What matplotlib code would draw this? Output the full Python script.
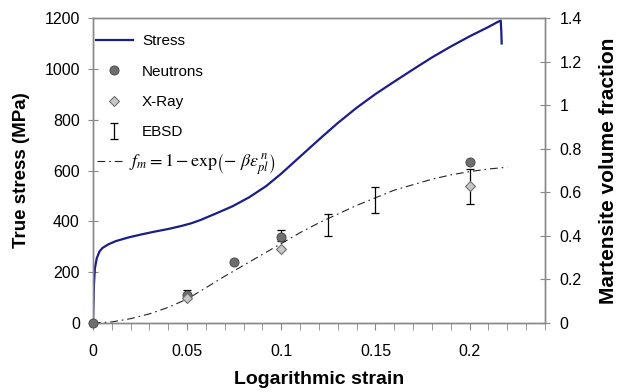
import numpy as np
import matplotlib
matplotlib.use('Agg')
import matplotlib.pyplot as plt

plt.rcParams['font.family'] = ['Liberation Sans', 'DejaVu Sans']
plt.rcParams['mathtext.fontset'] = 'stix'

# stress-strain curve
strain = [0, 0.0005, 0.001, 0.002, 0.0035, 0.005, 0.008, 0.012, 0.019, 0.026,
          0.033, 0.04, 0.047, 0.052, 0.057, 0.065, 0.074, 0.083, 0.092, 0.1,
          0.11, 0.12, 0.13, 0.14, 0.15, 0.16, 0.17, 0.18, 0.19,
          0.2, 0.21, 0.215, 0.2165, 0.2168, 0.217]
stress = [0, 150, 215, 255, 282, 295, 309, 322, 337, 349,
          360, 370, 382, 392, 405, 430, 459, 495, 539, 588,
          655, 722, 787, 847, 901, 950, 998, 1045, 1088,
          1128, 1165, 1185, 1190, 1150, 1100]

# martensite fraction measurements
neu_x = [0, 0.05, 0.075, 0.1, 0.2]
neu_y = [0, 0.13, 0.28, 0.395, 0.74]
xray_x = [0.05, 0.1, 0.2]
xray_y = [0.115, 0.34, 0.63]
ebsd_x = [0.05, 0.1, 0.125, 0.15, 0.2]
ebsd_y = [0.13, 0.40, 0.45, 0.565, 0.625]
ebsd_err = [0.02, 0.025, 0.05, 0.06, 0.08]

# fitted model curve
fit_x = [0, 0.01, 0.02, 0.03, 0.04, 0.05, 0.06, 0.07, 0.08, 0.09, 0.1, 0.11,
         0.12, 0.13, 0.14, 0.15, 0.16, 0.17, 0.18, 0.19, 0.2, 0.21, 0.22]
fit_y = [0, 0.005, 0.02, 0.042, 0.072, 0.11, 0.162, 0.215, 0.265, 0.315, 0.365, 0.415,
         0.46, 0.50, 0.54, 0.575, 0.61, 0.635, 0.66, 0.68, 0.695, 0.707, 0.715]

xticks = [0, 0.05, 0.1, 0.15, 0.2]
xticklabels = ['0', '0.05', '0.1', '0.15', '0.2']
rticks = [0, 0.2, 0.4, 0.6, 0.8, 1.0, 1.2, 1.4]
rticklabels = ['0', '0.2', '0.4', '0.6', '0.8', '1', '1.2', '1.4']

fig = plt.figure(figsize=(6.2, 3.92), dpi=100)
ax = fig.add_axes([0.15, 0.176, 0.729, 0.778])
ax2 = ax.twinx()

spine_c = '#888888'
for a in (ax, ax2):
    for s in a.spines.values():
        s.set_color(spine_c)
        s.set_linewidth(1.0)

ln, = ax.plot(strain, stress, color='#1c1c8a', lw=1.6)

fl, = ax2.plot(fit_x, fit_y, color='#222222', lw=0.8, ls=(0, (7, 3.5, 1.5, 3.5)))
eb = ax2.errorbar(ebsd_x, ebsd_y, yerr=ebsd_err, fmt='none', ecolor='black',
                  elinewidth=0.9, capsize=3, capthick=0.9)
nm, = ax2.plot(neu_x, neu_y, 'o', ms=6.5, mfc='#6e6e6e', mec='#4a4a4a', mew=0.7,
               zorder=4, clip_on=False)
xm, = ax2.plot(xray_x, xray_y, 'D', ms=5, mfc='#c8c8c8', mec='#707070', mew=0.8,
               zorder=5)

ax.set_xlim(0, 0.24)
ax.set_ylim(0, 1200)
ax2.set_ylim(0, 1.4)
ax.set_xticks(xticks)
ax.set_xticklabels(xticklabels)
ax.set_xticks(np.arange(0, 0.2401, 0.01), minor=True)
ax.set_yticks(range(0, 1201, 200))
ax2.set_yticks(rticks)
ax2.set_yticklabels(rticklabels)

ax.tick_params(axis='x', which='both', direction='out', length=5, color=spine_c,
               labelsize=11.5, pad=10)
ax.tick_params(axis='y', direction='inout', length=7, color=spine_c,
               labelsize=11.5, pad=6)
ax2.tick_params(axis='y', direction='inout', length=7, color=spine_c,
                labelsize=11.5, pad=7)

ax.set_xlabel('Logarithmic strain', fontsize=14, fontweight='bold', labelpad=9)
ax.set_ylabel('True stress (MPa)', fontsize=13.5, fontweight='bold', labelpad=10)
ax2.set_ylabel('Martensite volume fraction', fontsize=15, fontweight='bold',
               labelpad=12)

leg = ax2.legend([ln, nm, xm, eb], ['Stress', 'Neutrons', 'X-Ray', 'EBSD'],
                 loc='upper left', bbox_to_anchor=(0.0, 0.957), frameon=False,
                 fontsize=11, handlelength=2.4, handletextpad=0.6,
                 labelspacing=1.07, borderaxespad=0, borderpad=0.2)
ax2.add_artist(leg)
ax2.legend([fl], [r'$f_m = 1 - \mathrm{exp}\left(-\ \beta\varepsilon_{pl}^{\,n}\right)$'],
           loc='center left', bbox_to_anchor=(0.0, 0.52), frameon=False,
           fontsize=13, handlelength=1.4, handletextpad=0.4,
           borderaxespad=0, borderpad=0.2)

fig.savefig('out.png', dpi=100)
